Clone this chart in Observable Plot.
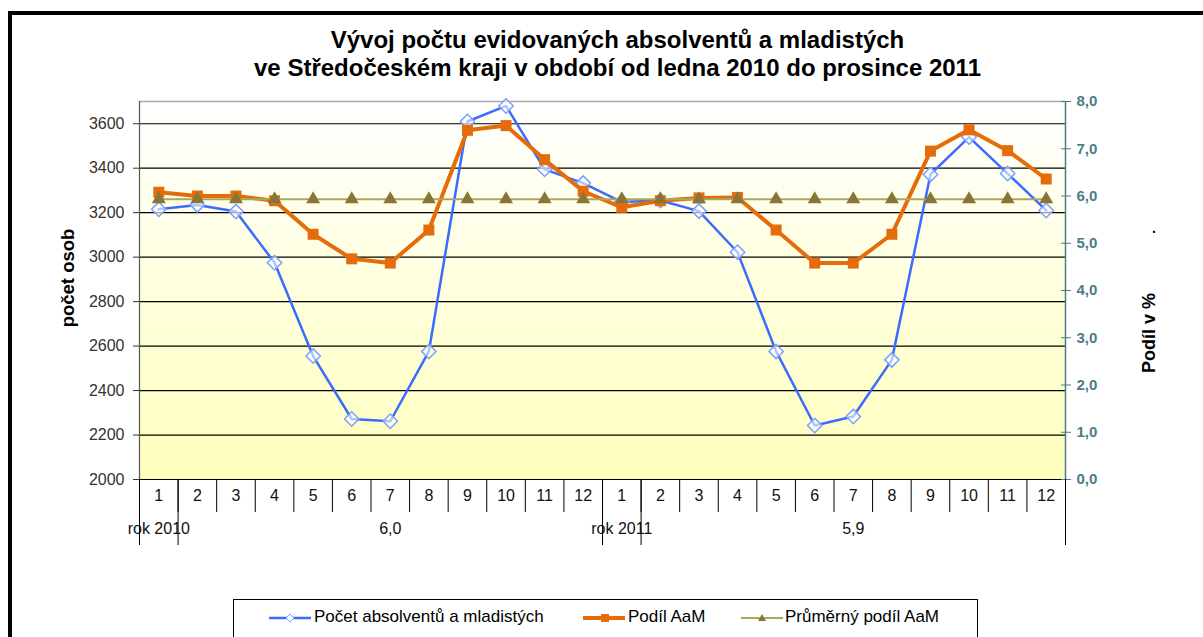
<!DOCTYPE html>
<html><head><meta charset="utf-8">
<script src="https://cdn.jsdelivr.net/npm/d3@7"></script>
<script src="https://cdn.jsdelivr.net/npm/@observablehq/plot@0.6"></script>
<style>
body{margin:0;background:#fff;font-family:"Liberation Sans",Arial,sans-serif;}
#wrap{position:relative;width:1203px;height:637px;overflow:hidden;}
#chart{position:absolute;left:0;top:0;}
#frame{position:absolute;left:8px;top:11px;width:1220px;height:720px;border:4px solid #000;box-sizing:border-box;}
#title{position:absolute;left:0;width:1235px;top:26px;text-align:center;font-weight:bold;font-size:24px;line-height:28px;color:#000;}
.vlab{position:absolute;font-weight:bold;font-size:18.5px;color:#000;transform:translate(-50%,-50%) rotate(-90deg);white-space:nowrap;}
#legend{position:absolute;left:233px;top:599px;width:745px;height:44px;border:1px solid #000;box-sizing:border-box;background:#fff;}
.li{position:absolute;top:7px;font-size:17px;white-space:nowrap;color:#000;}
</style></head>
<body>
<div id="wrap">
  <div id="chart"></div>
  <div id="frame"></div>
  <div id="title"></div>
  <div class="vlab" id="ylabL" style="left:68px;top:278px;"></div>
  <div class="vlab" id="ylabR" style="left:1149px;top:333px;font-size:18px;"></div>
  <div style="position:absolute;left:1152px;top:220px;font-size:14px;font-weight:bold;">.</div>
  <div id="legend"></div>
</div>
<script>
// ---- data ----
const monthLabels = ["1","2","3","4","5","6","7","8","9","10","11","12","1","2","3","4","5","6","7","8","9","10","11","12"];
const countValues = [3215,3235,3205,2975,2555,2272,2262,2576,3610,3680,3395,3333,
                     3248,3255,3207,3022,2576,2243,2283,2538,3372,3540,3376,3210];
const shareValues = [6.08,6.0,6.0,5.9,5.19,4.67,4.58,5.28,7.39,7.49,6.77,6.1,
                     5.76,5.9,5.96,5.97,5.28,4.58,4.58,5.19,6.95,7.4,6.96,6.36];
const avgShareValues = [5.93,5.93,5.93,5.93,5.93,5.93,5.93,5.93,5.93,5.93,5.93,5.93,
                        5.93,5.93,5.93,5.93,5.93,5.93,5.93,5.93,5.93,5.93,5.93,5.93];
const yearLabels = ["rok 2010","rok 2011"];
const yearAvgLabels = ["6,0","5,9"];
const leftTicks = [2000,2200,2400,2600,2800,3000,3200,3400,3600];
const gridTicks = [2200,2400,2600,2800,3000,3200,3400,3600];
const rightTicks = [0,1,2,3,4,5,6,7,8];
const seriesNames = ["Počet absolventů a mladistých","Podíl AaM","Průměrný podíl AaM"];
const titleLines = ["Vývoj počtu evidovaných absolventů a mladistých","ve Středočeském kraji v období od ledna 2010 do prosince 2011"];
const leftTitle = "počet osob";
const rightTitle = "Podíl v %";

// ---- scales helpers ----
const yMin = 2000, yMax = 3700, pMax = 8;
const pct = p => yMin + p * (yMax - yMin) / pMax;
const fmtPct = v => (((v - yMin) * pMax) / (yMax - yMin)).toFixed(1).replace(".", ",");

const data = monthLabels.map((m, i) => ({
  i, xc: i + 0.5, month: m,
  count: countValues[i], share: pct(shareValues[i]), avg: pct(avgShareValues[i])
}));
const years = yearLabels.map((y, k) => ({ xc: k * 12 + 0.5, label: y, mid: k * 12 + 6.5, avg: yearAvgLabels[k] }));

const blue = "#3b6bff", orange = "#e46c0a", olive = "#a9a85c", oliveDark = "#8a7538";

const chart = Plot.plot({
  width: 1203, height: 637,
  marginLeft: 139, marginRight: 138, marginTop: 101, marginBottom: 158,
  style: { fontFamily: "'Liberation Sans', Arial, sans-serif", background: "transparent" },
  x: { type: "linear", domain: [0, 24] },
  y: { domain: [yMin, yMax] },
  marks: [
    Plot.frame({ fill: "url(#bgGrad)", stroke: null }),
    Plot.gridY(gridTicks, { stroke: "#000", strokeOpacity: 1, strokeWidth: 1.2 }),
    Plot.ruleY([yMax], { stroke: "#a8a8a8", strokeWidth: 1.5 }),
    Plot.ruleY([yMin], { stroke: "#000", strokeWidth: 1.2 }),
    Plot.ruleX([0], { stroke: "#555", strokeWidth: 1.2 }),
    Plot.ruleX([24], { stroke: "#4a7d86", strokeWidth: 1.5 }),
    Plot.axisY({ anchor: "left", ticks: leftTicks, tickSize: 6, tickPadding: 9, fontSize: 16, color: "#333", label: null, tickFormat: d => String(d) }),
    Plot.axisY({ anchor: "right", ticks: rightTicks.map(pct), tickFormat: fmtPct, tickSize: 10, dx: -5, tickPadding: 6, fontSize: 15, fontWeight: "bold", color: "#4a7d86", label: null }),
    Plot.axisX({ ticks: d3.range(0, 25), tickSize: 33, tickFormat: () => "", color: "#000", label: null }),
    Plot.axisX({ ticks: [0, 1, 12, 13, 24], tickSize: 66, tickFormat: () => "", color: "#000", label: null }),
    Plot.text(data, { x: "xc", text: "month", frameAnchor: "bottom", dy: 21, fontSize: 16, fill: "#111" }),
    Plot.text(years, { x: "xc", text: "label", frameAnchor: "bottom", dy: 54, fontSize: 16, fill: "#111" }),
    Plot.text(years, { x: "mid", text: "avg", frameAnchor: "bottom", dy: 54, fontSize: 16, fill: "#111" }),
    // series
    Plot.line(data, { x: "xc", y: "count", stroke: blue, strokeWidth: 2.5 }),
    Plot.dot(data, { x: "xc", y: "count", symbol: "diamond2", r: 6.5, stroke: "#7ba0ff", strokeWidth: 1.5, fill: "#fff", fillOpacity: 0.6 }),
    Plot.line(data, { x: "xc", y: "share", stroke: orange, strokeWidth: 4 }),
    Plot.dot(data, { x: "xc", y: "share", symbol: "square", r: 6.2, fill: orange, stroke: null }),
    Plot.line(data, { x: "xc", y: "avg", stroke: olive, strokeWidth: 2 }),
    Plot.dot(data, { x: "xc", y: "avg", symbol: "triangle", r: 5.2, fill: oliveDark, stroke: null })
  ]
});

// gradient background
const svg = d3.select(chart);
const defs = svg.insert("defs", ":first-child");
const g = defs.append("linearGradient").attr("id", "bgGrad").attr("x1", 0).attr("y1", 0).attr("x2", 0).attr("y2", 1);
g.append("stop").attr("offset", "0%").attr("stop-color", "#ffffff");
g.append("stop").attr("offset", "100%").attr("stop-color", "#ffffbc");

document.getElementById("chart").appendChild(chart);
document.getElementById("title").innerHTML = titleLines.join("<br>");
document.getElementById("ylabL").textContent = leftTitle;
document.getElementById("ylabR").textContent = rightTitle;

// legend
const legendItems = [
  { name: seriesNames[0], color: blue, w: 2.5, sym: "diamond", left: 268, tl: 313 },
  { name: seriesNames[1], color: orange, w: 4, sym: "square", left: 582, tl: 627 },
  { name: seriesNames[2], color: olive, w: 2, sym: "triangle", left: 740, tl: 784 }
];
const leg = document.getElementById("legend");
legendItems.forEach(it => {
  const s = d3.create("svg").attr("width", 44).attr("height", 16)
    .style("position", "absolute").style("left", (it.left - 233) + "px").style("top", "10px");
  s.append("line").attr("x1", 0).attr("x2", 42).attr("y1", 8).attr("y2", 8).attr("stroke", it.color).attr("stroke-width", it.w);
  if (it.sym === "diamond") s.append("path").attr("d", "M21,4L25,8L21,12L17,8Z").attr("fill", "#fff").attr("stroke", "#7ba0ff").attr("stroke-width", 1);
  if (it.sym === "square") s.append("rect").attr("x", 18).attr("y", 4).attr("width", 8).attr("height", 8).attr("fill", orange);
  if (it.sym === "triangle") s.append("path").attr("d", "M21,4L25,11L17,11Z").attr("fill", oliveDark);
  leg.appendChild(s.node());
  const t = document.createElement("div");
  t.className = "li"; t.style.left = (it.tl - 233) + "px"; t.textContent = it.name;
  leg.appendChild(t);
});
</script>
</body></html>
